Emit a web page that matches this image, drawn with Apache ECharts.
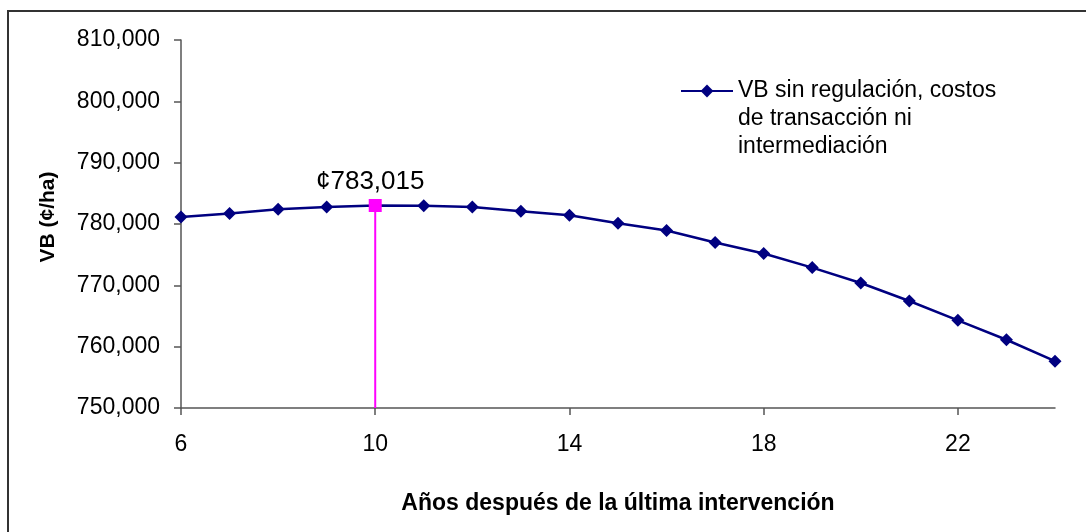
<!DOCTYPE html>
<html>
<head>
<meta charset="utf-8">
<script src="https://cdn.jsdelivr.net/npm/echarts@6/dist/echarts.min.js"></script>
<style>
  html, body { margin: 0; padding: 0; background: #ffffff; }
  #chart { width: 1086px; height: 532px; }
</style>
</head>
<body>
<div id="chart"></div>
<script>
// Years after the last intervention
const years = [6, 7, 8, 9, 10, 11, 12, 13, 14, 15, 16, 17, 18, 19, 20, 21, 22, 23, 24];
// VB (¢/ha) without regulation, transaction or intermediation costs
const vbValues = [781150, 781710, 782410, 782780, 783015, 782980, 782780, 782080, 781430,
                  780120, 778930, 776970, 775180, 772890, 770380, 767440, 764290, 761130, 757640];
// Highlighted optimum
const optimumYear = 10;
const optimumValue = 783015;
// Axis ticks
const xTicks = [6, 10, 14, 18, 22];
const yMin = 750000, yMax = 810000, yStep = 10000;

const seriesName = 'VB sin regulación, costos de transacción ni intermediación';
// two leading blank lines keep the legend symbol level with the first text line
const legendText = '\n\nVB sin regulación, costos\nde transacción ni\nintermediación';
const fontFamily = '"Liberation Sans", Arial, sans-serif';

function withCommas(v) {
  return String(Math.round(v)).replace(/\B(?=(\d{3})+(?!\d))/g, ',');
}

const chart = echarts.init(document.getElementById('chart'), null, { renderer: 'canvas' });

chart.setOption({
  backgroundColor: '#ffffff',
  animation: false,
  textStyle: { fontFamily: fontFamily, color: '#000000' },
  grid: { left: 181, right: 31, top: 40, bottom: 124, containLabel: false },
  graphic: [
    {
      type: 'rect',
      shape: { x: 8, y: 11, width: 1100, height: 600 },
      style: { fill: 'none', stroke: '#333333', lineWidth: 2 },
      silent: true,
      z: -1
    }
  ],
  legend: {
    data: [seriesName],
    left: 680,
    top: 21,
    padding: 0,
    itemWidth: 52,
    itemHeight: 16,
    lineStyle: { width: 2 },
    formatter: function () { return legendText; },
    textStyle: {
      fontFamily: fontFamily,
      fontSize: 23,
      lineHeight: 28,
      color: '#000000'
    }
  },
  xAxis: {
    type: 'value',
    min: 6,
    max: 24,
    interval: 4,
    name: 'Años después de la última intervención',
    nameLocation: 'middle',
    nameGap: 84,
    nameTextStyle: { fontFamily: fontFamily, fontSize: 23, fontWeight: 'bold', color: '#000000' },
    splitLine: { show: false },
    axisLine: { lineStyle: { color: '#555555', width: 1.5 } },
    axisTick: { show: true, length: 7, lineStyle: { color: '#555555', width: 1.5 }, customValues: xTicks },
    axisLabel: {
      customValues: xTicks,
      margin: 25,
      fontSize: 23,
      color: '#000000',
      fontFamily: fontFamily
    }
  },
  yAxis: {
    type: 'value',
    min: yMin,
    max: yMax,
    interval: yStep,
    name: 'VB (¢/ha)',
    nameLocation: 'middle',
    nameGap: 122,
    nameTextStyle: { fontFamily: fontFamily, fontSize: 21, fontWeight: 'bold', color: '#000000', padding: [0, 0, 0, 14] },
    splitLine: { show: false },
    axisLine: { show: true, lineStyle: { color: '#555555', width: 1.5 } },
    axisTick: { show: true, length: 7, lineStyle: { color: '#555555', width: 1.5 } },
    axisLabel: {
      margin: 21,
      fontSize: 23,
      color: '#000000',
      fontFamily: fontFamily,
      formatter: withCommas
    }
  },
  series: [
    {
      name: seriesName,
      type: 'line',
      data: years.map((y, i) => [y, vbValues[i]]),
      symbol: 'diamond',
      symbolSize: 13,
      showAllSymbol: true,
      smooth: false,
      lineStyle: { color: '#000080', width: 2.5 },
      itemStyle: { color: '#000080' },
      z: 3
    },
    {
      name: 'Óptimo',
      type: 'line',
      data: [
        {
          value: [optimumYear, optimumValue],
          symbol: 'rect',
          symbolSize: 13,
          label: {
            show: true,
            position: 'top',
            distance: 4,
            offset: [-5, 0],
            fontSize: 26,
            fontFamily: fontFamily,
            color: '#000000',
            formatter: function () { return '¢' + withCommas(optimumValue); }
          }
        },
        { value: [optimumYear, yMin], symbol: 'none' }
      ],
      lineStyle: { color: '#FF00FF', width: 2 },
      itemStyle: { color: '#FF00FF' },
      z: 4
    }
  ]
});
</script>
</body>
</html>
